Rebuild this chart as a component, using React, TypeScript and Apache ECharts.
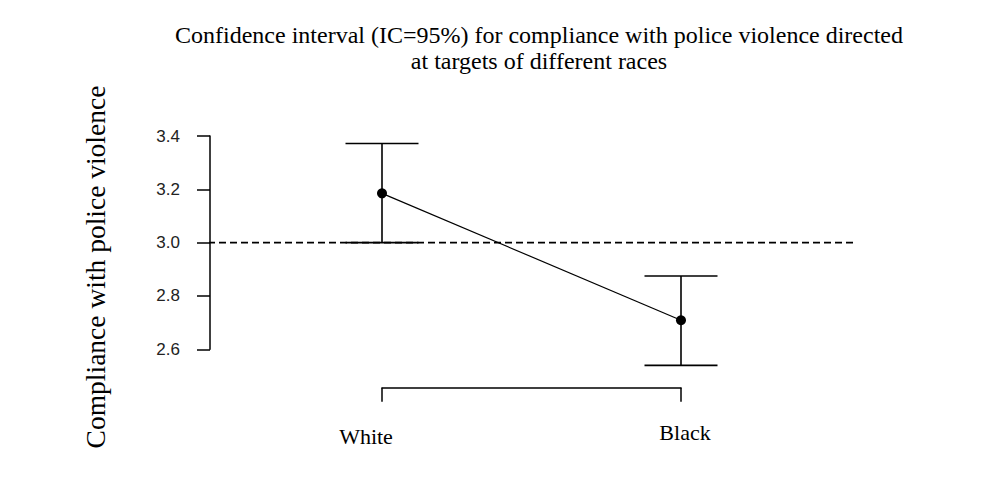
import React, { useEffect, useRef } from "react";
import * as echarts from "echarts";

const categories = ["White", "Black"];
const means = [3.185, 2.709];
const lower = [3.0, 2.54];
const upper = [3.372, 2.875];
const referenceLevel = 3.0;
const yTicks = [2.6, 2.8, 3.0, 3.2, 3.4];

const titleText =
  "Confidence interval (IC=95%) for compliance with police violence directed\nat targets of different races";
const yTitle = "Compliance with police violence";

export default function App() {
  const ref = useRef<HTMLDivElement>(null);
  useEffect(() => {
    if (!ref.current) return;
    const chart = echarts.init(ref.current, null, { renderer: "svg" });
    // layout (pixels)
    const x1 = 382, x2 = 681;
    const unit = x2 - x1;
    const gridLeft = 210, gridRight = 853;
    const xMin = 1 - (x1 - gridLeft) / unit;
    const xMax = 2 + (gridRight - x2) / unit;
    const dashStart = 1 - (x1 - 197) / unit;

    const errData = categories.map((_, i) => [i + 1, lower[i], upper[i]]);
    const meanData = categories.map((_, i) => [i + 1, means[i]]);

    chart.setOption({
      animation: false,
      backgroundColor: "#ffffff",
      title: {
        text: titleText,
        left: 534,
        top: 17,
        textAlign: "center",
        textStyle: {
          fontFamily: "Liberation Serif",
          fontWeight: "normal",
          fontSize: 24,
          lineHeight: 26,
          color: "#000",
        },
      },
      graphic: [
        {
          type: "text",
          x: 95,
          y: 267,
          rotation: Math.PI / 2,
          style: {
            text: yTitle,
            fontFamily: "Liberation Serif",
            fontSize: 27.5,
            fill: "#000",
            textAlign: "center",
            textVerticalAlign: "middle",
          },
        },
      ],
      grid: [
        { left: gridLeft, top: 136, width: gridRight - gridLeft, height: 213.33 },
        { left: x1, top: 300, width: unit, height: 87.7 },
      ],
      xAxis: [
        { type: "value", gridIndex: 0, min: xMin, max: xMax, show: false },
        {
          type: "category",
          gridIndex: 1,
          data: categories,
          boundaryGap: false,
          axisLine: { lineStyle: { color: "#000", width: 1.5 } },
          axisTick: { length: 14, lineStyle: { color: "#000", width: 1.5 } },
          axisLabel: {
            margin: 34,
            interval: 0,
            formatter: (v: string) => (v === categories[0] ? "{a|" + v + "}" : "{b|" + v + "}"),
            rich: {
              a: {
                fontFamily: "Liberation Serif",
                fontSize: 22,
                color: "#000",
                padding: [4, 32, 0, 0],
              },
              b: {
                fontFamily: "Liberation Serif",
                fontSize: 22,
                color: "#000",
                padding: [0, 0, 0, 8],
              },
            },
          },
          splitLine: { show: false },
        },
      ],
      yAxis: [
        {
          type: "value",
          gridIndex: 0,
          min: 2.6,
          max: 3.4,
          interval: 0.2,
          axisLine: { show: true, lineStyle: { color: "#000", width: 1.5 } },
          axisTick: { show: true, length: 13, lineStyle: { color: "#000", width: 1.5 } },
          axisLabel: {
            margin: 30,
            fontFamily: "Liberation Sans",
            fontSize: 17,
            color: "#222",
            formatter: (v: number) => {
              const t = yTicks.find((k) => Math.abs(k - v) < 1e-6);
              return t !== undefined ? t.toFixed(1) : "";
            },
          },
          splitLine: { show: false },
        },
        { type: "value", gridIndex: 1, show: false, min: 0, max: 1 },
      ],
      series: [
        {
          type: "line",
          xAxisIndex: 0,
          yAxisIndex: 0,
          clip: false,
          data: [
            [dashStart, referenceLevel],
            [xMax, referenceLevel],
          ],
          symbol: "none",
          lineStyle: { color: "#000", width: 1.6, type: [7, 4] },
          silent: true,
        },
        {
          type: "custom",
          xAxisIndex: 0,
          yAxisIndex: 0,
          clip: false,
          data: errData,
          renderItem: (params: any, api: any) => {
            const x = api.value(0);
            const lo = api.coord([x, api.value(1)]);
            const hi = api.coord([x, api.value(2)]);
            const hw = 36.5;
            const st = { stroke: "#000", lineWidth: 1.6 };
            return {
              type: "group",
              children: [
                { type: "line", shape: { x1: lo[0], y1: lo[1], x2: hi[0], y2: hi[1] }, style: st },
                { type: "line", shape: { x1: hi[0] - hw, y1: hi[1], x2: hi[0] + hw, y2: hi[1] }, style: st },
                { type: "line", shape: { x1: lo[0] - hw, y1: lo[1], x2: lo[0] + hw, y2: lo[1] }, style: st },
              ],
            };
          },
        },
        {
          type: "line",
          xAxisIndex: 0,
          yAxisIndex: 0,
          clip: false,
          data: meanData,
          symbol: "circle",
          symbolSize: 10,
          itemStyle: { color: "#000" },
          lineStyle: { color: "#000", width: 1.2 },
        },
      ],
    });
    return () => chart.dispose();
  }, []);
  return (
    <div
      ref={ref}
      style={{ position: "fixed", left: 0, top: 0, width: 994, height: 495, background: "#fff" }}
    />
  );
}
